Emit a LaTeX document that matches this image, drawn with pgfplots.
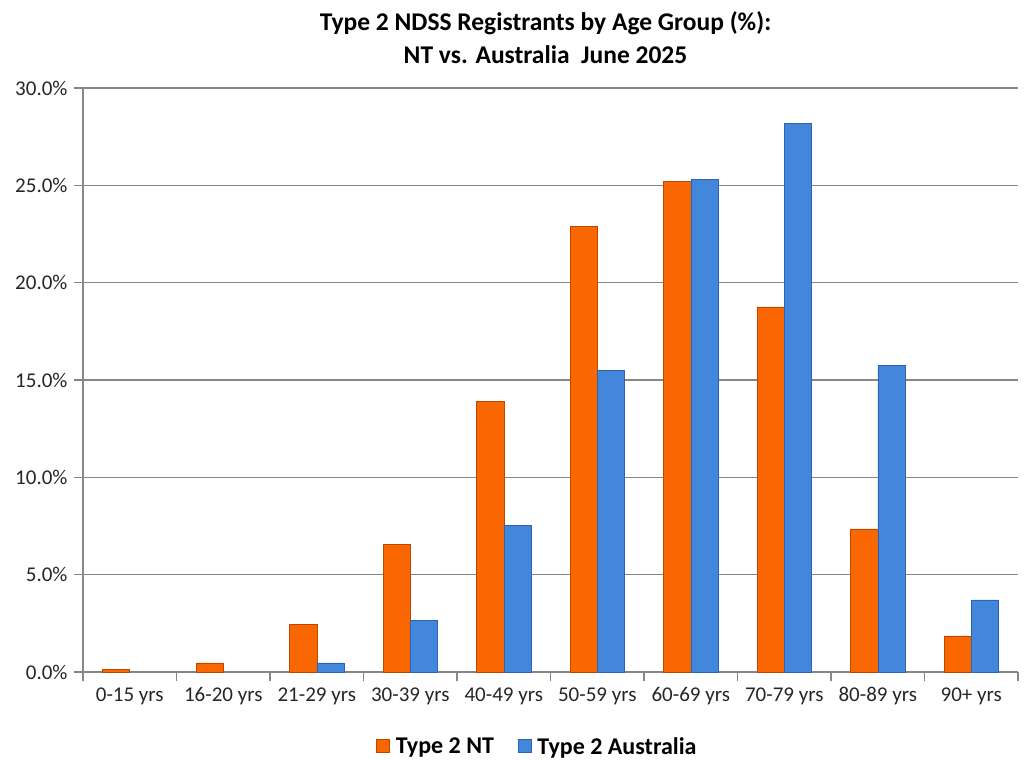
\documentclass[border=0pt]{standalone}
\usepackage{pgfplots}
\pgfplotsset{compat=1.18}
\usepackage{fontspec}
\setmainfont{Carlito}
\definecolor{ntfill}{RGB}{250,102,0}
\definecolor{ntedge}{RGB}{190,70,0}
\definecolor{ausfill}{RGB}{66,135,220}
\definecolor{ausedge}{RGB}{45,100,175}
\definecolor{gridgray}{RGB}{134,134,134}
\begin{document}
\begin{tikzpicture}
\begin{axis}[
  scale only axis,
  width=935pt, height=584pt,
  ymin=0, ymax=30,
  xmin=-0.5, xmax=9.5,
  ytick={0,5,...,30},
  yticklabel={\pgfmathprintnumber[fixed,fixed zerofill,precision=1]{\tick}\%},
  /pgf/number format/assume math mode=true,
  xtick={0,...,9},
  xticklabels={0-15 yrs,16-20 yrs,21-29 yrs,30-39 yrs,40-49 yrs,50-59 yrs,60-69 yrs,70-79 yrs,80-89 yrs,90+ yrs},
  minor xtick={-0.5,0.5,...,9.5},
  major x tick style={draw=none},
  minor x tick style={gridgray, line width=1.2pt},
  y tick style={gridgray, line width=1.2pt},
  tick align=outside,
  major tick length=9pt,
  minor tick length=9pt,
  axis x line*=bottom,
  axis y line*=left,
  axis line style={gridgray, line width=1.5pt, -},
  ymajorgrids,
  grid style={gridgray, line width=1.5pt},
  tick label style={font=\fontsize{21}{23}\selectfont, text=black!85},
  xticklabel style={yshift=-3pt},
  yticklabel style={xshift=-3pt},
  title={Type 2 NDSS Registrants by Age Group (\%):\\NT vs. Australia\ \ June 2025},
  title style={align=center, font=\bfseries\fontsize{25.5}{33}\selectfont, yshift=15pt, xshift=-5pt},
  ybar, bar width=0.29,
  legend style={at={(0.486,-0.105)}, anchor=north, draw=none, legend columns=2,
    font=\bfseries\fontsize{24}{26}\selectfont,
    /tikz/every odd column/.append style={column sep=4pt},
    /tikz/every even column/.append style={column sep=22pt}},
  legend image code/.code={\fill[#1] (0pt,-6pt) rectangle (13pt,7pt);},
]
\addplot[bar shift=-0.145, draw=ntedge, line width=0.5pt, fill=ntfill]
  coordinates {(0,0.15) (1,0.47) (2,2.43) (3,6.57) (4,13.9) (5,22.9) (6,25.2) (7,18.75) (8,7.35) (9,1.85)};
\addplot[bar shift=0.145, draw=ausedge, line width=0.5pt, fill=ausfill]
  coordinates {(2,0.47) (3,2.67) (4,7.55) (5,15.5) (6,25.3) (7,28.2) (8,15.77) (9,3.7)};
\legend{Type 2 NT, Type 2 Australia}
\end{axis}
\pgfresetboundingbox
\path (current axis.south west) ++(-83pt,-88pt) rectangle ++(1028pt,760pt);
\end{tikzpicture}
\end{document}
